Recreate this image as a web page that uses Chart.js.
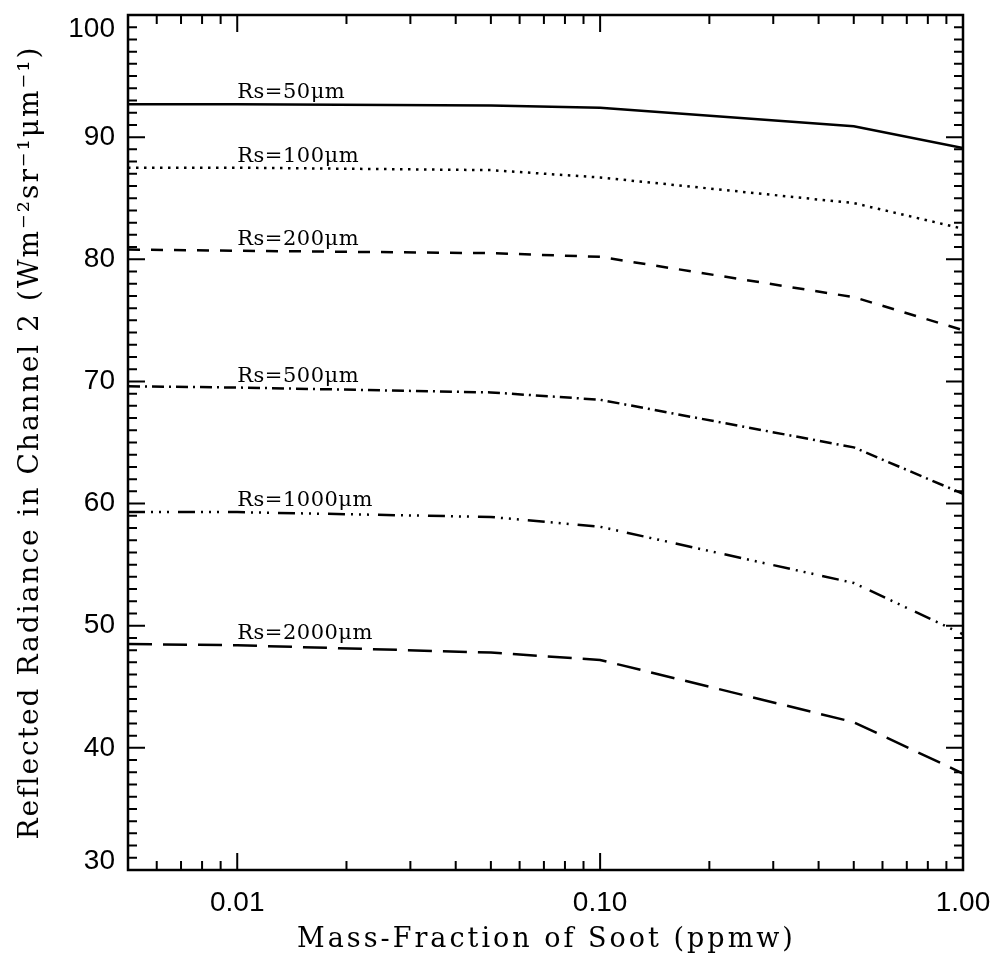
<!DOCTYPE html>
<html>
<head>
<meta charset="utf-8">
<script src="https://cdn.jsdelivr.net/npm/chart.js@4.4.1/dist/chart.umd.min.js"></script>
<style>
html,body{margin:0;padding:0;background:#fff;}
#wrap{width:1000px;height:960px;}
</style>
</head>
<body>
<div id="wrap"><canvas id="c" width="1000" height="960"></canvas></div>
<script>
const sootX  = [0.005, 0.01, 0.05, 0.1, 0.5, 1.0];
// reflected radiance per snow grain radius
const rs50   = [92.7, 92.7, 92.6, 92.4, 90.9, 89.1];
const rs100  = [87.5, 87.5, 87.3, 86.7, 84.6, 82.5];
const rs200  = [80.8, 80.7, 80.5, 80.2, 76.9, 74.2];
const rs500  = [69.6, 69.5, 69.1, 68.5, 64.6, 60.8];
const rs1000 = [59.3, 59.3, 58.9, 58.1, 53.5, 49.3];
const rs2000 = [48.5, 48.4, 47.8, 47.2, 42.1, 37.9];
const curveNames = ['Rs=50μm', 'Rs=100μm', 'Rs=200μm', 'Rs=500μm', 'Rs=1000μm', 'Rs=2000μm'];
const xTicks = [0.01, 0.1, 1.0];
const yTicks = [30, 40, 50, 60, 70, 80, 90, 100];
const xTitle = 'Mass-Fraction of Soot (ppmw)';
const yTitle = 'Reflected Radiance in Channel 2 (Wm⁻²sr⁻¹μm⁻¹)';

const dashes = [[], [2.5, 5.5], [12, 11], [12, 5, 2, 5], [17, 6, 2, 6, 2, 6, 2, 9], [24, 11]];
const serif = 'DejaVu Serif';
const sans = 'Liberation Sans';

function pts(ys){ return sootX.map((x, i) => ({x: x, y: ys[i]})); }

const datasets = [rs50, rs100, rs200, rs500, rs1000, rs2000].map((ys, i) => ({
    label: curveNames[i],
    data: pts(ys),
    borderColor: '#000',
    borderWidth: 2.5,
    borderDash: dashes[i],
    pointRadius: 0,
    tension: 0,
    fill: false
}));

// frame, inward ticks on all four sides, y labels (clamped like the original), titles, curve labels
const framePlugin = {
    id: 'frame',
    afterDatasetsDraw(chart){
        const ctx = chart.ctx;
        const a = chart.chartArea;
        const xs = chart.scales.x, ys = chart.scales.y;
        ctx.save();
        ctx.strokeStyle = '#000';
        ctx.lineWidth = 2.5;
        ctx.strokeRect(a.left, a.top, a.right - a.left, a.bottom - a.top);

        ctx.lineWidth = 2;
        ctx.beginPath();
        for (let v = 30; v <= 100; v++){
            const p = ys.getPixelForValue(v);
            const len = v % 10 === 0 ? 17 : 9;
            ctx.moveTo(a.left, p); ctx.lineTo(a.left + len, p);
            ctx.moveTo(a.right, p); ctx.lineTo(a.right - len, p);
        }
        for (let dec = 0.001; dec < 1; dec *= 10){
            for (let m = 1; m <= 9; m++){
                const v = dec * m;
                if (v < xs.min * 1.0001 || v > xs.max * 1.0001) continue;
                const p = xs.getPixelForValue(v);
                const len = m === 1 ? 17 : 9;
                ctx.moveTo(p, a.bottom); ctx.lineTo(p, a.bottom - len);
                ctx.moveTo(p, a.top); ctx.lineTo(p, a.top + len);
            }
        }
        ctx.stroke();

        ctx.fillStyle = '#000';
        ctx.font = '28px "' + sans + '"';
        ctx.textAlign = 'right';
        ctx.textBaseline = 'middle';
        yTicks.forEach(v => {
            let p = ys.getPixelForValue(v);
            p = Math.max(a.top + 14, Math.min(a.bottom - 9, p));
            ctx.fillText(String(v), a.left - 13, p);
        });

        // axis titles, wide spacing like the plotter font
        ctx.textAlign = 'center';
        ctx.font = '27px "' + serif + '"';
        ctx.letterSpacing = '3px';
        ctx.fillText(xTitle, (a.left + a.right) / 2 + 1, 940);
        ctx.save();
        ctx.translate(31, (a.top + a.bottom) / 2);
        ctx.rotate(-Math.PI / 2);
        ctx.font = '28px "' + serif + '"';
        ctx.letterSpacing = '2px';
        ctx.fillText(yTitle, 0, 0);
        ctx.restore();

        ctx.font = '21px "' + serif + '"';
        ctx.letterSpacing = '0.5px';
        ctx.textAlign = 'left';
        ctx.textBaseline = 'alphabetic';
        chart.data.datasets.forEach((ds, i) => {
            const pt = chart.getDatasetMeta(i).data[1];
            ctx.fillText(ds.label, pt.x, pt.y - 6);
        });
        ctx.restore();
    }
};

new Chart(document.getElementById('c'), {
    type: 'line',
    data: { datasets },
    options: {
        responsive: false,
        animation: false,
        layout: { padding: { left: 0, right: 37, top: 15, bottom: 0 } },
        plugins: { legend: { display: false }, tooltip: { enabled: false } },
        scales: {
            x: {
                type: 'logarithmic',
                min: 0.005,
                max: 1,
                afterBuildTicks: s => { s.ticks = xTicks.map(v => ({ value: v })); },
                afterFit: s => { s.height = 90; s.paddingLeft = 0; s.paddingRight = 0; },
                grid: { display: false, drawTicks: false },
                border: { display: false },
                ticks: {
                    callback: v => Number(v).toFixed(2),
                    font: { family: sans, size: 28 },
                    color: '#000',
                    padding: 16,
                    maxRotation: 0,
                    autoSkip: false
                },
                title: { display: false }
            },
            y: {
                min: 30,
                max: 100,
                afterFit: s => { s.width = 128; s.paddingTop = 0; s.paddingBottom = 0; },
                grid: { display: false, drawTicks: false },
                border: { display: false },
                ticks: { display: false, stepSize: 10 },
                title: { display: false }
            }
        }
    },
    plugins: [framePlugin]
});
</script>
</body>
</html>
